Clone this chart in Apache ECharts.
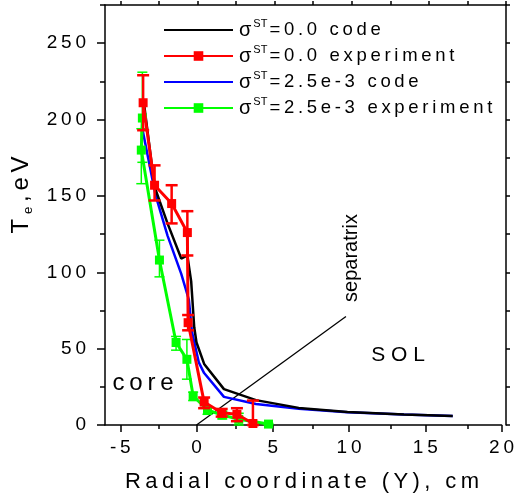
<!DOCTYPE html>
<html><head><meta charset="utf-8">
<script src="https://cdn.jsdelivr.net/npm/echarts@6/dist/echarts.min.js"></script>
<style>html,body{margin:0;padding:0;background:#fff}#c{width:517px;height:499px}</style>
</head><body><div id="c"></div>
<script>
// ---- tick values ----
const xTicks = [-5, 0, 5, 10, 15, 20];
const xMinor = [-2.5, 2.5, 7.5, 12.5, 17.5];
const yTicks = [0, 50, 100, 150, 200, 250];
const yMinor = [25, 75, 125, 175, 225, 275];

// ---- sigma=0.0 code ----
const code0X = [-3.45, -2.75, -1.9, -1.0, -0.6, -0.35, -0.15, 0.0, 0.5, 1.8, 3.9, 6.7, 9.9, 13.6, 16.8];
const code0Y = [211, 156, 132, 109, 111, 94, 64, 54, 40, 23.5, 16.3, 11.2, 8.5, 6.9, 5.9];
// ---- sigma=2.5e-3 code ----
const code25X = [-3.55, -2.7, -1.9, -1.0, -0.5, -0.3, 0.15, 0.5, 1.8, 3.9, 6.7, 9.9, 13.6, 16.8];
const code25Y = [194, 151, 124, 99, 82, 61, 41, 34, 18.4, 13.8, 10.7, 8.3, 6.9, 5.9];
// ---- sigma=0.0 experiment ----
const exp0X  = [-3.5, -2.75, -1.63, -0.6, -0.55, 0.5, 1.65, 2.65, 3.7];
const exp0Y  = [211, 157, 145, 126, 67, 15, 8, 7, 1];
const exp0Lo = [193, 147, 132, 111, 62, 11, 5.5, 2.5, 0];
const exp0Hi = [229, 170, 157, 140, 72, 18, 10.5, 11, 16];
// ---- sigma=2.5e-3 experiment ----
const exp25X  = [-3.55, -3.62, -2.43, -1.34, -0.63, -0.22, 0.72, 1.69, 2.77, 4.72];
const exp25Y  = [201, 180, 108, 54, 43, 19, 9.8, 6.5, 3.7, 0.6];
const exp25Lo = [172, 158, 97, 49, 30, 16, 7, 4, 0, 0];
const exp25Hi = [231, 194, 121, 58, 56, 21.5, 12, 9, 7.7, 1];
// ---- separatrix pointer ----
const sepX = [0, 9.8];
const sepY = [0, 71];

const FONT = '"Liberation Sans", Arial, sans-serif';
const TS = '\u2009';
const sp = (s, g) => String(s).split('').join(g === undefined ? TS : g);
const zip = (a, b) => a.map((v, i) => [v, b[i]]);
const zip3 = (a, b, c) => a.map((v, i) => [v, b[i], c[i]]);

const legendText = {
  s0code: '=0.0 code',
  s0exp: '=0.0 experiment',
  s25code: '=2.5e-3 code',
  s25exp: '=2.5e-3 experiment'
};

function errBars(color, width, hw) {
  return function (params, api) {
    const x = api.value(0), lo = api.value(1), hi = api.value(2);
    const p1 = api.coord([x, lo]), p2 = api.coord([x, hi]);
    const st = { stroke: color, lineWidth: width };
    return {
      type: 'group', children: [
        { type: 'line', shape: { x1: p1[0], y1: p1[1], x2: p2[0], y2: p2[1] }, style: st },
        { type: 'line', shape: { x1: p1[0] - hw, y1: p1[1], x2: p1[0] + hw, y2: p1[1] }, style: st },
        { type: 'line', shape: { x1: p2[0] - hw, y1: p2[1], x2: p2[0] + hw, y2: p2[1] }, style: st }
      ]
    };
  };
}

const gridRect = { left: 105, right: 11, top: 5, bottom: 74 };
const axLine = { show: true, onZero: false, lineStyle: { color: '#000', width: 1.5 } };
const noLine = { show: false, onZero: false };
const tickStyle = { color: '#000', width: 1.5 };

const chart = echarts.init(document.getElementById('c'), null, { renderer: 'canvas' });
chart.setOption({
  animation: false,
  backgroundColor: '#fff',
  grid: [Object.assign({}, gridRect), Object.assign({}, gridRect)],
  xAxis: [
    { gridIndex: 0, type: 'value', min: -6, max: 20, position: 'bottom',
      axisLine: axLine, splitLine: { show: false },
      axisTick: { show: true, inside: false, length: 7, customValues: xTicks, lineStyle: tickStyle },
      axisLabel: { customValues: xTicks, formatter: v => sp(v), fontSize: 19, color: '#000', fontFamily: FONT, margin: 13 } },
    { gridIndex: 1, type: 'value', min: -6, max: 20, position: 'bottom',
      axisLine: noLine, splitLine: { show: false },
      axisTick: { show: true, inside: false, length: 4, customValues: xMinor, lineStyle: tickStyle },
      axisLabel: { show: false } },
    { gridIndex: 1, type: 'value', min: -6, max: 20, position: 'top',
      axisLine: axLine, splitLine: { show: false },
      axisTick: { show: true, inside: false, length: 4, customValues: xTicks.concat(xMinor), lineStyle: tickStyle },
      axisLabel: { show: false } }
  ],
  yAxis: [
    { gridIndex: 0, type: 'value', min: 0, max: 275, position: 'left',
      axisLine: axLine, splitLine: { show: false },
      axisTick: { show: true, inside: false, length: 8, customValues: yTicks, lineStyle: tickStyle },
      axisLabel: { customValues: yTicks, formatter: v => sp(v), fontSize: 19, color: '#000', fontFamily: FONT, margin: 19 } },
    { gridIndex: 1, type: 'value', min: 0, max: 275, position: 'left',
      axisLine: noLine, splitLine: { show: false },
      axisTick: { show: true, inside: false, length: 5, customValues: yMinor, lineStyle: tickStyle },
      axisLabel: { show: false } },
    { gridIndex: 1, type: 'value', min: 0, max: 275, position: 'right',
      axisLine: axLine, splitLine: { show: false },
      axisTick: { show: true, inside: false, length: 4, customValues: yTicks.concat(yMinor), lineStyle: tickStyle },
      axisLabel: { show: false } }
  ],
  legend: {
    data: [
      { name: 's0code', itemStyle: { opacity: 0 } },
      { name: 's0exp' },
      { name: 's25code', itemStyle: { opacity: 0 } },
      { name: 's25exp' }
    ],
    orient: 'vertical',
    left: 163, top: 18,
    padding: 0,
    itemGap: 4,
    itemWidth: 69,
    itemHeight: 12,
    formatter: n => '{s|σ}{u|ST}{t|' + sp(legendText[n]) + '}',
    textStyle: {
      color: '#000', fontFamily: FONT, padding: [0, 0, 0, 1],
      rich: {
        s: { fontSize: 20, lineHeight: 24, fontFamily: FONT, color: '#000' },
        u: { fontSize: 11, lineHeight: 16, verticalAlign: 'top', fontFamily: FONT, color: '#000', padding: [0, 2, 0, 2] },
        t: { fontSize: 18.5, lineHeight: 24, fontFamily: FONT, color: '#000' }
      }
    }
  },
  graphic: [
    { type: 'text', x: 21, y: 195, rotation: Math.PI / 2,
      style: { text: '{a|T' + TS + '}{b|e}{a|' + TS + sp(',eV') + '}', x: 0, y: 0, align: 'center', verticalAlign: 'middle',
        rich: { a: { fontSize: 24, lineHeight: 28, fontFamily: FONT, fill: '#000' },
                b: { fontSize: 13, lineHeight: 13, verticalAlign: 'bottom', fontFamily: FONT, fill: '#000' } } } },
    { type: 'text', x: 302, y: 482,
      style: { text: sp('Radial coordinate (Y), cm'), font: '22px ' + FONT, fill: '#000', align: 'center', verticalAlign: 'middle' } },
    { type: 'text', x: 351, y: 258, rotation: Math.PI / 2,
      style: { text: 'separatrix', font: '20px ' + FONT, fill: '#000', align: 'center', verticalAlign: 'middle' } },
    { type: 'text', x: 398, y: 355,
      style: { text: 'S O L', font: '21px ' + FONT, fill: '#000', align: 'center', verticalAlign: 'middle' } },
    { type: 'text', x: 143, y: 383,
      style: { text: sp('core'), font: '24px ' + FONT, fill: '#000', align: 'center', verticalAlign: 'middle' } }
  ],
  series: [
    { name: 'separatrix-line', type: 'line', data: zip(sepX, sepY), symbol: 'none', silent: true,
      lineStyle: { color: '#000', width: 1.3 }, z: 2 },
    { name: 's25code', type: 'line', data: zip(code25X, code25Y), symbol: 'none', smooth: false,
      lineStyle: { color: '#0000ff', width: 2.5 }, itemStyle: { color: '#0000ff' }, z: 3 },
    { name: 's0code', type: 'line', data: zip(code0X, code0Y), symbol: 'none',
      lineStyle: { color: '#000', width: 2.5 }, itemStyle: { color: '#000' }, z: 4 },
    { name: 's25exp-err', type: 'custom', renderItem: errBars('#00ff00', 1.5, 5), data: zip3(exp25X, exp25Lo, exp25Hi),
      encode: { x: 0, y: [1, 2] }, z: 5, silent: true },
    { name: 's25exp', type: 'line', data: zip(exp25X, exp25Y), symbol: 'rect', symbolSize: 9,
      lineStyle: { color: '#00ff00', width: 3 }, itemStyle: { color: '#00ff00' }, z: 6 },
    { name: 's0exp-err', type: 'custom', renderItem: errBars('#ff0000', 2.5, 6), data: zip3(exp0X, exp0Lo, exp0Hi),
      encode: { x: 0, y: [1, 2] }, z: 7, silent: true },
    { name: 's0exp', type: 'line', data: zip(exp0X, exp0Y), symbol: 'rect', symbolSize: 9,
      lineStyle: { color: '#ff0000', width: 3 }, itemStyle: { color: '#ff0000' }, z: 8 }
  ]
});
</script></body></html>
